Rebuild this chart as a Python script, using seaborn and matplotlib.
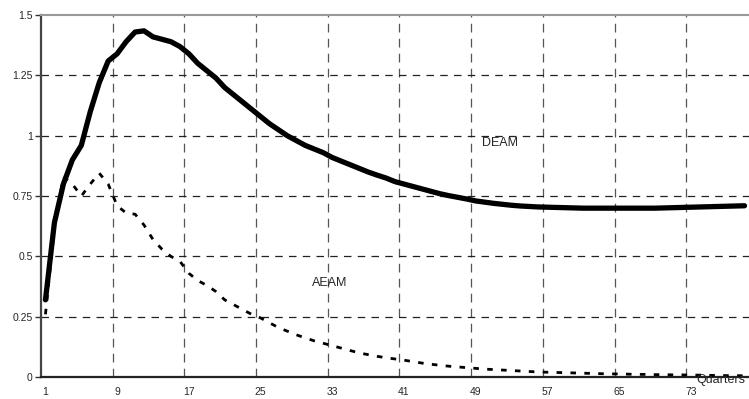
import matplotlib
matplotlib.use("Agg")
import matplotlib.pyplot as plt
import matplotlib.ticker as mticker
import numpy as np
import pandas as pd
import seaborn as sns

# quarters 1..79
quarters = list(range(1, 80))

deam = [0.32, 0.64, 0.80, 0.90, 0.96, 1.10, 1.22, 1.31, 1.34, 1.39,
        1.43, 1.435, 1.41, 1.40, 1.39, 1.37, 1.34, 1.30, 1.27, 1.24,
        1.20, 1.17, 1.14, 1.11, 1.08, 1.05, 1.025, 1.00, 0.98, 0.96,
        0.945, 0.93, 0.91, 0.895, 0.88, 0.865, 0.85, 0.837, 0.825, 0.81,
        0.80, 0.79, 0.78, 0.77, 0.76, 0.752, 0.745, 0.738, 0.73, 0.725,
        0.72, 0.716, 0.712, 0.709, 0.707, 0.705, 0.704, 0.703, 0.702, 0.701,
        0.70, 0.70, 0.70, 0.70, 0.70, 0.70, 0.70, 0.70, 0.70, 0.701,
        0.702, 0.703, 0.704, 0.705, 0.706, 0.707, 0.708, 0.709, 0.71]

aeam = [0.26, 0.62, 0.83, 0.80, 0.75, 0.80, 0.845, 0.80, 0.71, 0.68,
        0.675, 0.63, 0.57, 0.53, 0.50, 0.48, 0.43, 0.40, 0.38, 0.355,
        0.32, 0.30, 0.28, 0.26, 0.245, 0.225, 0.205, 0.19, 0.175, 0.162,
        0.15, 0.14, 0.13, 0.12, 0.11, 0.10, 0.093, 0.086, 0.08, 0.075,
        0.07, 0.064, 0.058, 0.053, 0.049, 0.045, 0.042, 0.039, 0.036, 0.033,
        0.031, 0.029, 0.027, 0.025, 0.023, 0.021, 0.02, 0.019, 0.018, 0.017,
        0.016, 0.015, 0.014, 0.013, 0.013, 0.012, 0.011, 0.011, 0.010, 0.010,
        0.009, 0.009, 0.008, 0.008, 0.007, 0.007, 0.006, 0.006, 0.005]

xtick_labels = [1, 9, 17, 25, 33, 41, 49, 57, 65, 73]
ytick_values = [0, 0.25, 0.5, 0.75, 1, 1.25, 1.5]

df = pd.DataFrame({"quarter": quarters, "DEAM": deam, "AEAM": aeam})

sns.set_style("white")
plt.rcParams["font.family"] = ["Liberation Sans", "DejaVu Sans"]

fig = plt.figure(figsize=(7.49, 3.99), dpi=100)
ax = fig.add_axes([0.0547, 0.055, 0.9453, 0.907])

# dashed grid, vertical lines sit between categories
for gx in np.arange(8.5, 79, 8):
    ax.axvline(gx, color="#555555", lw=0.9, ls=(0, (7, 5)), zorder=1)
for gy in ytick_values[1:-1]:
    ax.axhline(gy, color="#222222", lw=0.9, ls=(0, (6, 5)), zorder=1)

sns.lineplot(data=df, x="quarter", y="DEAM", color="black", lw=3.8, ax=ax, zorder=3)
sns.lineplot(data=df, x="quarter", y="AEAM", color="black", lw=2.0,
             ls=(0, (2.0, 3.0)), ax=ax, zorder=3)

ax.set_xlim(0.5, 79.5)
ax.set_ylim(0, 1.5)
ax.set_xlabel("")
ax.set_ylabel("")

ax.set_xticks(xtick_labels)
ax.set_xticklabels([str(v) for v in xtick_labels], fontsize=7.5)
ax.xaxis.set_minor_locator(mticker.FixedLocator(np.arange(0.5, 79, 8)))
ax.tick_params(axis="x", which="major", length=0, pad=7)
ax.tick_params(axis="x", which="minor", length=4, width=1, direction="out", color="#333333")

ax.set_yticks(ytick_values)
ax.yaxis.set_major_formatter(mticker.FuncFormatter(lambda v, p: f"{v:g}"))
ax.tick_params(axis="y", length=4, width=1, direction="out", color="#333333", labelsize=7.5, pad=2)
ax.tick_params(left=True, bottom=True)

ax.spines["left"].set_color("#444444")
ax.spines["left"].set_linewidth(1.6)
ax.spines["bottom"].set_color("#222222")
ax.spines["bottom"].set_linewidth(1.6)
ax.spines["top"].set_color("#999999")
ax.spines["top"].set_linewidth(1.5)
ax.spines["right"].set_visible(False)

ax.text(51.7, 0.97, "DEAM", fontsize=9, ha="center", va="center")
ax.text(32.7, 0.39, "AEAM", fontsize=9, ha="center", va="center")
ax.text(73.6, -0.012, "Quarters", fontsize=9, ha="left", va="center", clip_on=False)

fig.savefig("out.png", dpi=100)
